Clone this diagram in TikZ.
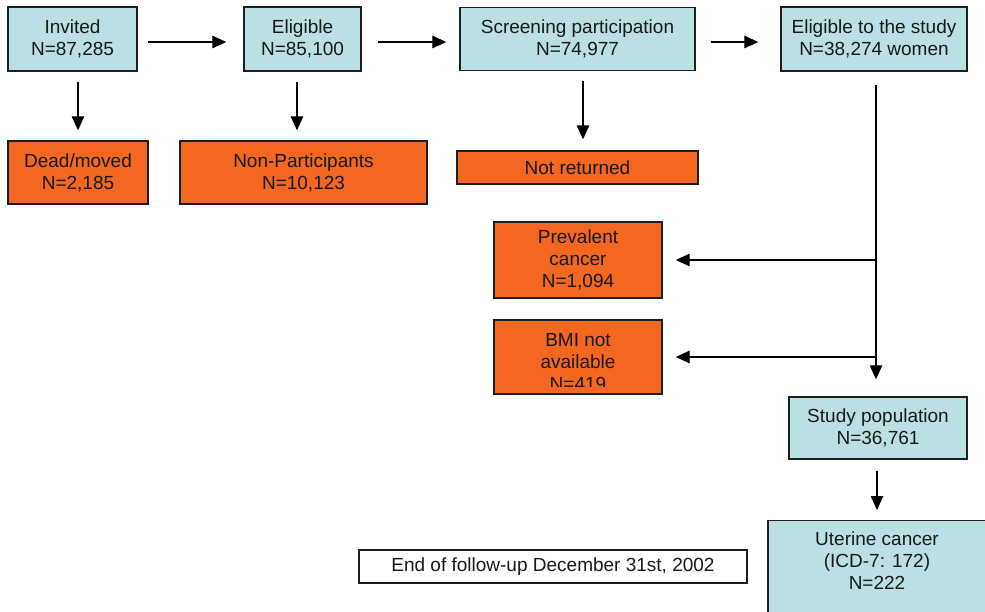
\documentclass[tikz,border=0pt]{standalone}
\usepackage{fontspec}
\setmainfont{Liberation Sans}
\usetikzlibrary{arrows.meta,calc}
\definecolor{boxblue}{RGB}{186,224,227}
\definecolor{boxorange}{RGB}{243,103,33}
\definecolor{edgecol}{RGB}{30,30,30}
\begin{document}
\begin{tikzpicture}[x=1pt,y=-1pt,
  font=\fontsize{19}{22}\selectfont,
  box/.style={draw=edgecol, line width=1.4pt, align=center, inner sep=0pt, text=black!90},
  bbox/.style={box, fill=boxblue},
  obox/.style={box, fill=boxorange},
  txt/.style={align=center, inner sep=0pt, text=black!90},
  arr/.style={draw=black, line width=1.3pt, -{Triangle[length=14pt,width=12.5pt]}}]
\clip (0,0) rectangle (985,612);
\fill[white] (0,0) rectangle (985,612);
% top row
\node[bbox, minimum width=129, minimum height=64] (inv) at (72.5,39) {Invited\\N=87,285};
\node[bbox, minimum width=117, minimum height=64] (elig) at (302.5,39) {Eligible\\N=85,100};
\node[bbox, minimum width=235, minimum height=63] (scr) at (577.5,39) {Screening participation\\N=74,977};
\node[bbox, minimum width=186, minimum height=64] (est) at (874,39) {Eligible to the study\\N=38,274 women};
% exclusions
\node[obox, minimum width=140, minimum height=63] (dead) at (78,172.5) {Dead/moved\\N=2,185};
\node[obox, minimum width=247, minimum height=63] (nonp) at (303.5,172.5) {Non-Participants\\N=10,123};
\node[obox, minimum width=241, minimum height=33] (notret) at (577.5,167.5) {Not returned};
\node[obox, minimum width=168, minimum height=76] (prev) at (578,260) {Prevalent\\cancer\\N=1,094};
\node[obox, minimum width=168, minimum height=74] (bmi) at (578,357) {};
\begin{scope}
  \clip ($(bmi.north west)+(1,1)$) rectangle ($(bmi.south east)+(-1,-8)$);
  \node[txt] (bmitext) at (578,362) {BMI not\\available\\N=419};
\end{scope}
% study population and outcome
\node[bbox, minimum width=178, minimum height=62] (sp) at (878,428) {Study population\\N=36,761};
\node[bbox, minimum width=218, minimum height=130, anchor=north] (ut) at (877,520) {};
\node[txt] (uttext) at (877,560.5) {Uterine cancer\\(ICD-7: 172)\\N=222};
\node[box, fill=white, minimum width=388, minimum height=33] (fu) at (553,566.5) {End of follow-up December 31st, 2002};
% arrows
\draw[arr] ($(inv.east)+(10,3)$) -- ($(elig.west)+(-17,3)$);
\draw[arr] ($(elig.east)+(16,3)$) -- ($(scr.west)+(-13,3)$);
\draw[arr] ($(scr.east)+(15,3)$) -- ($(est.west)+(-22,3)$);
\draw[arr] ($(dead.north |- inv.south)+(0,10)$) -- ($(dead.north)+(0,-10)$);
\draw[arr] ($(elig.south)+(-5.5,10)$) -- ($(nonp.north)+(-6.5,-10)$);
\draw[arr] ($(scr.south)+(5.5,10)$) -- ($(notret.north)+(5.5,-11)$);
\coordinate (tr) at ($(est.south)+(2,13)$);
\draw[arr] (tr) -- ($(sp.north)+(-2,-17)$);
\draw[arr] (tr |- prev.east) -- ($(prev.east)+(13,0)$);
\draw[arr] (tr |- bmi.east) -- ($(bmi.east)+(13,0)$);
\draw[arr] ($(sp.south)+(-1,11)$) -- ($(ut.north)+(0,-10)$);
\end{tikzpicture}
\end{document}
